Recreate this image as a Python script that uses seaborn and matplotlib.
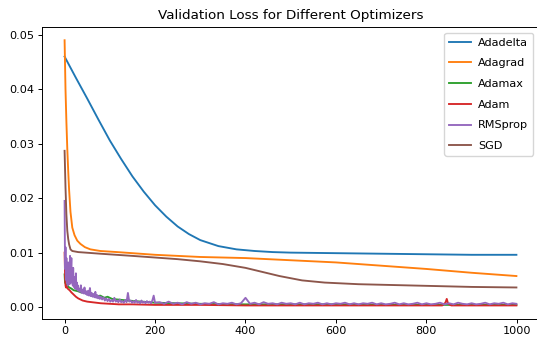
import matplotlib
matplotlib.use("Agg")
import matplotlib.pyplot as plt
import seaborn as sns
import pandas as pd

# ---- data ----
optimizers = ["Adadelta", "Adagrad", "Adamax", "Adam", "RMSprop", "SGD"]

adadelta_epochs = [0, 25, 50, 75, 100, 125, 150, 175, 200, 225, 250, 275, 300,
                   340, 380, 420, 460, 500, 600, 700, 800, 900, 999]
adadelta_loss = [0.0460, 0.0421, 0.0383, 0.0344, 0.0306, 0.0272, 0.0240, 0.0212,
                 0.0187, 0.0166, 0.0148, 0.0134, 0.0123, 0.0112, 0.0106, 0.0103,
                 0.0101, 0.0100, 0.0099, 0.0098, 0.0097, 0.0096, 0.0096]

adagrad_epochs = [0, 2, 4, 6, 8, 10, 13, 17, 22, 28, 35, 45, 57, 79, 116, 200,
                  300, 400, 500, 600, 700, 800, 900, 999]
adagrad_loss = [0.0490, 0.0400, 0.0340, 0.0290, 0.0250, 0.0215, 0.0175, 0.0146,
                0.0132, 0.0122, 0.0116, 0.0110, 0.0106, 0.0103, 0.0101, 0.0096,
                0.0092, 0.0090, 0.0086, 0.0082, 0.0076, 0.0070, 0.0063, 0.0057]

adamax_epochs = [0, 1, 3, 6, 10, 15, 20, 25, 30, 36, 43, 50, 55, 60, 65, 72, 79,
                 88, 95, 105, 116, 128, 140, 155, 170, 185, 200, 250, 300, 400,
                 500, 600, 700, 800, 900, 999]
adamax_loss = [0.0060, 0.0045, 0.0042, 0.0040, 0.0036, 0.0034, 0.0031, 0.0030,
               0.0029, 0.0027, 0.0027, 0.0024, 0.0026, 0.0022, 0.0023, 0.0020,
               0.0021, 0.0017, 0.0019, 0.0015, 0.0014, 0.0013, 0.0012, 0.0011,
               0.0010, 0.0009, 0.0008, 0.0007, 0.0006, 0.0005, 0.0005, 0.0005,
               0.0004, 0.0004, 0.0004, 0.0004]

adam_epochs = [0, 1, 2, 3, 4, 6, 8, 11, 15, 20, 25, 30, 35, 40, 50, 60, 70, 80,
               100, 120, 150, 200, 250, 300, 400, 500, 600, 700, 800, 835, 842,
               845, 848, 855, 900, 999]
adam_loss = [0.0100, 0.0060, 0.0040, 0.0036, 0.0038, 0.0035, 0.0033, 0.0031,
             0.0027, 0.0023, 0.0019, 0.0016, 0.0014, 0.0012, 0.0010, 0.0009,
             0.0008, 0.0007, 0.0006, 0.0005, 0.0005, 0.0004, 0.0004, 0.0004,
             0.0003, 0.0003, 0.0003, 0.0003, 0.0003, 0.0003, 0.0008, 0.0015,
             0.0006, 0.0003, 0.0003, 0.0003]

rmsprop_epochs = (list(range(0, 31)) + list(range(32, 81, 2))
                  + list(range(83, 201, 3)) + list(range(210, 1000, 10)) + [999])
rmsprop_loss = [
    # 0-30
    0.0195, 0.0070, 0.0110, 0.0050, 0.0090, 0.0045, 0.0075, 0.0040, 0.0082,
    0.0050, 0.0065, 0.0042, 0.0094, 0.0048, 0.0070, 0.0090, 0.0045, 0.0060,
    0.0040, 0.0072, 0.0038, 0.0055, 0.0036, 0.0050, 0.0034, 0.0062, 0.0033,
    0.0045, 0.0032, 0.0040, 0.0030,
    # 32-80
    0.0034, 0.0028, 0.0040, 0.0026, 0.0032, 0.0025, 0.0036, 0.0024, 0.0029,
    0.0022, 0.0030, 0.0021, 0.0035, 0.0020, 0.0026, 0.0019, 0.0024, 0.0018,
    0.0028, 0.0017, 0.0022, 0.0016, 0.0020, 0.0015, 0.0019,
    # 83-200
    0.0014, 0.0018, 0.0012, 0.0016, 0.0011, 0.0015, 0.0010, 0.0013, 0.0010,
    0.0017, 0.0010, 0.0012, 0.0009, 0.0014, 0.0009, 0.0011, 0.0008, 0.0013,
    0.0009, 0.0026, 0.0010, 0.0012, 0.0008, 0.0011, 0.0008, 0.0013, 0.0008,
    0.0010, 0.0007, 0.0012, 0.0008, 0.0010, 0.0007, 0.0011, 0.0008, 0.0010,
    0.0007, 0.0012, 0.0021, 0.0008,
    # 210-990
    0.0009, 0.0006, 0.0010, 0.0006, 0.0008, 0.0005, 0.0009, 0.0006, 0.0008,
    0.0005, 0.0007, 0.0006, 0.0009, 0.0005, 0.0007, 0.0006, 0.0008, 0.0005,
    0.0007, 0.0017, 0.0006, 0.0008, 0.0005, 0.0009, 0.0006, 0.0007, 0.0005,
    0.0008, 0.0006, 0.0007, 0.0005, 0.0008, 0.0005, 0.0007, 0.0006, 0.0008,
    0.0005, 0.0007, 0.0005, 0.0007, 0.0006, 0.0008, 0.0005, 0.0007, 0.0005,
    0.0007, 0.0006, 0.0008, 0.0005, 0.0007, 0.0005, 0.0006, 0.0008, 0.0005,
    0.0007, 0.0005, 0.0006, 0.0008, 0.0005, 0.0007, 0.0005, 0.0006, 0.0008,
    0.0005, 0.0007, 0.0005, 0.0008, 0.0006, 0.0005, 0.0007, 0.0005, 0.0006,
    0.0008, 0.0005, 0.0007, 0.0006, 0.0008, 0.0005, 0.0007,
    # 999
    0.0006,
]

sgd_epochs = [0, 2, 4, 6, 8, 10, 13, 17, 30, 79, 150, 200, 250, 300, 350, 400,
              425, 450, 475, 500, 525, 550, 575, 600, 650, 700, 800, 900, 999]
sgd_loss = [0.0287, 0.0220, 0.0170, 0.0140, 0.0125, 0.0115, 0.0106, 0.0103,
            0.0101, 0.0098, 0.0094, 0.0091, 0.0088, 0.0084, 0.0079, 0.0072,
            0.0067, 0.0062, 0.0057, 0.0053, 0.0049, 0.0047, 0.0045, 0.0044,
            0.0042, 0.0041, 0.0039, 0.0037, 0.0036]

series = {
    "Adadelta": (adadelta_epochs, adadelta_loss),
    "Adagrad": (adagrad_epochs, adagrad_loss),
    "Adamax": (adamax_epochs, adamax_loss),
    "Adam": (adam_epochs, adam_loss),
    "RMSprop": (rmsprop_epochs, rmsprop_loss),
    "SGD": (sgd_epochs, sgd_loss),
}

rows = []
for name in optimizers:
    ep, ls = series[name]
    for e, l in zip(ep, ls):
        rows.append({"Epoch": e, "Loss": l, "Optimizer": name})
df = pd.DataFrame(rows)

# ---- figure ----
FS = 8.1
LW = 1.35
plt.rcParams.update({
    "font.family": ["DejaVu Sans"],
    "font.size": FS,
    "xtick.major.size": 2.8,
    "ytick.major.size": 2.8,
    "xtick.major.pad": 2.8,
    "ytick.major.pad": 2.8,
    "axes.linewidth": 0.7,
    "xtick.major.width": 0.7,
    "ytick.major.width": 0.7,
})

fig = plt.figure(figsize=(5.37, 3.41), dpi=100)
ax = fig.add_axes([42 / 537, 22.3 / 341, 497 / 537, 291.7 / 341])

sns.lineplot(data=df, x="Epoch", y="Loss", hue="Optimizer",
             hue_order=optimizers, palette="tab10", estimator=None,
             sort=False, linewidth=LW, ax=ax)

ax.set_xlabel("")
ax.set_ylabel("")
ax.set_title("Validation Loss for Different Optimizers", fontsize=9.7, pad=6)
ax.set_xticks([0, 200, 400, 600, 800, 1000])
ax.set_yticks([0.00, 0.01, 0.02, 0.03, 0.04, 0.05])
ax.tick_params(labelsize=FS)

handles, labels = ax.get_legend_handles_labels()
ax.legend(handles, labels, loc="upper right", fontsize=FS, title=None,
          borderaxespad=0.55, handlelength=2.0, labelspacing=0.95,
          handletextpad=0.6)
for h in ax.get_legend().get_lines():
    h.set_linewidth(LW)

fig.savefig("out.png", dpi=100)
